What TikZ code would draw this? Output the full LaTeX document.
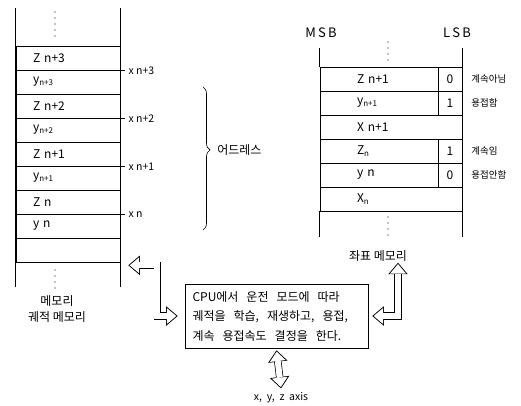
\documentclass[tikz,border=0pt]{standalone}
\usepackage{fontspec}
\setmainfont{Noto Sans CJK KR}
\usetikzlibrary{positioning,arrows.meta,decorations.pathreplacing}

% hollow double-headed arrow: black outline pass, then white inner pass
\newcommand\hollowarrow[1]{%
  \draw[hbk] #1;
  \draw[hwt] #1;}

\begin{document}
\begin{tikzpicture}[x=1pt, y=-1pt, line width=0.6pt,
  every node/.style={font=\fontsize{12}{14}\selectfont, inner sep=0pt},
  cell/.style={draw, minimum width=104pt, minimum height=24pt, text width=70pt, align=left},
  wcell/.style={draw, minimum width=118pt, minimum height=24pt, text width=44pt, align=left},
  bcell/.style={draw, minimum width=24pt, minimum height=24pt},
  xcell/.style={draw, minimum width=142pt, minimum height=24pt, text width=68pt, align=left},
  small/.style={font=\fontsize{10.5}{12}\selectfont},
  flag/.style={anchor=west, font=\fontsize{9.5}{11}\selectfont},
  hbk/.style={line width=7.4pt,
    {Triangle[width=19.5pt, length=11.5pt, line width=0pt]}-{Triangle[width=19.5pt, length=11.5pt, line width=0pt]}},
  hwt/.style={white, line width=6pt, shorten >=1.4pt, shorten <=1.4pt,
    {Triangle[width=15.9pt, length=9.4pt, line width=0pt]}-{Triangle[width=15.9pt, length=9.4pt, line width=0pt]}},
  vdot/.style={line width=1.3pt, line cap=round, dash pattern=on 0pt off 6pt}]

  \useasboundingbox (0,0) rectangle (521,405);

  %% --- left: trajectory memory ---
  \foreach \t [count=\i from 0] in {Z\ n+3, y\textsubscript{n+3}, Z\ n+2, y\textsubscript{n+2},
      Z\ n+1, y\textsubscript{n+1}, Z\ n, y\ n, {}}
    \node[cell] (m\i) at (68, 58+24*\i) {\t};
  \draw ([yshift=38pt]m0.north west) -- ([yshift=-25pt]m8.south west);
  \draw ([yshift=38pt]m0.north east) -- ([yshift=-25pt]m8.south east);
  \draw[vdot] (55,12) -- (55,36);
  \draw[vdot] (55,270) -- (55,290);
  \foreach \r/\t in {0/x\ n+3, 2/x\ n+2, 4/x\ n+1, 6/x\ n}
    \draw (m\r.south east) -- ++(5,0) node[small, right=3pt] (a\r) {\t};
  \node (memlbl) at (57,301) {메모리};
  \node[below=5pt of memlbl] (trlbl) {궤적 메모리};

  %% --- address brace ---
  \draw[decorate, decoration={brace, amplitude=7pt, aspect=0.44}] (203,87) -- (203,230);
  \node[anchor=west] (addr) at (217,150) {어드레스};

  %% --- right: coordinate memory ---
  \node[font=\fontsize{13}{15}\selectfont] (msb) at (321,33) {M\,S\,B};
  \node[font=\fontsize{13}{15}\selectfont] (lsb) at (457,33) {L\,S\,B};
  \node[wcell] (r0) at (379,79)  {Z\ n+1};
  \node[bcell] (b0) at (450,79)  {0};
  \node[wcell] (r1) at (379,103) {y\textsubscript{n+1}};
  \node[bcell] (b1) at (450,103) {1};
  \node[xcell] (r2) at (391,127) {X\ n+1};
  \node[wcell] (r3) at (379,151) {Z\textsubscript{n}};
  \node[bcell] (b3) at (450,151) {1};
  \node[wcell] (r4) at (379,175) {y\ n};
  \node[bcell] (b4) at (450,175) {0};
  \node[xcell] (r5) at (391,199) {X\textsubscript{n}};
  \draw ([yshift=19pt]r0.north west) -- (r0.north west);
  \draw ([yshift=19pt]b0.north east) -- (b0.north east);
  \draw (r5.south west) -- ([yshift=-26pt]r5.south west);
  \draw (r5.south east) -- ([yshift=-26pt]r5.south east);
  \draw[vdot] (388,42) -- (388,60);
  \draw[vdot] (388,217) -- (388,236);
  \node[flag] (f0) at (471,79)  {계속아님};
  \node[flag] (f1) at (471,103) {용접함};
  \node[flag] (f3) at (471,151) {계속임};
  \node[flag] (f4) at (471,175) {용접안함};
  \node (cmlbl) at (378,256) {좌표 메모리};

  %% --- CPU ---
  \node[draw, minimum width=183pt, minimum height=64pt, text width=168pt, align=left,
        font=\fontsize{12}{19.5}\selectfont] (cpu) at (276.5,316)
    {CPU에서 \ 운전 \ 모드에 \ 따라\\궤적을 \ 학습, \ 재생하고, \ 용접,\\계속 \ 용접속도 \ 결정을 \ 한다.};
  \node[small] (axis) at (281,398) {x,\ \ y,\ \ z\ \ axis};

  \hollowarrow{([xshift=8pt,yshift=-3pt]m8.south east) -- ++(29,0) |- ([xshift=-7pt]cpu.west)}
  \hollowarrow{([xshift=4pt]cpu.east) -| ([xshift=20pt,yshift=-1pt]cmlbl.south)}
  \hollowarrow{([yshift=-2pt]cpu.south) -- ([yshift=4pt]axis.north)}
\end{tikzpicture}
\end{document}
